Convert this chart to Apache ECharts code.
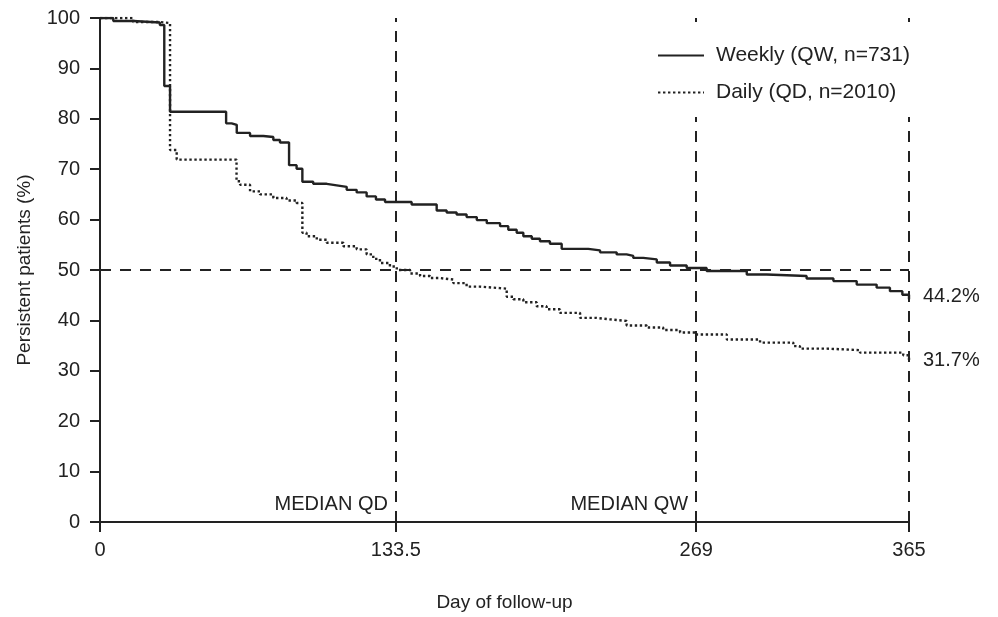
<!DOCTYPE html>
<html>
<head>
<meta charset="utf-8">
<title>Persistence QW vs QD</title>
<script src="https://cdn.jsdelivr.net/npm/echarts@6/dist/echarts.min.js"></script>
<style>
  html, body { margin: 0; padding: 0; background: #fff; }
  #chart { width: 998px; height: 617px; }
</style>
</head>
<body>
<div id="chart"></div>
<script>
// Kaplan-Meier steps: [day, % persistent]
const weekly = [
  [0, 100], [6, 99.4], [15, 99.1], [27, 98.6], [29, 86.5], [31.6, 81.4],
  [56.9, 79.1], [59.4, 78.8], [61.7, 77.2], [67.7, 76.6], [73.7, 76.4],
  [78.2, 75.8], [81.2, 75.3], [85.3, 70.8], [88.7, 70.1], [91.3, 67.5],
  [96.2, 67.1], [102.3, 66.8], [106.8, 66.5], [111.3, 65.9], [115.8, 65.4],
  [120.3, 64.6], [124.5, 64.0], [128.6, 63.5], [140.6, 63.0], [151.9, 61.8],
  [156.4, 61.4], [160.9, 61.0], [165.4, 60.5], [170, 59.9], [174.5, 59.3],
  [180.5, 58.7], [184.2, 58.0], [188, 57.4], [191, 56.7], [194.8, 56.2],
  [198.5, 55.7], [203, 55.2], [208.3, 54.2], [220.3, 53.9], [225.6, 53.5],
  [233.1, 53.1], [237.6, 52.8], [240.6, 52.4], [245.1, 52.1], [251.2, 51.5],
  [257.2, 50.9], [264.7, 50.4], [273.7, 49.8], [291.8, 49.1], [300.8, 48.8],
  [318.8, 48.3], [330.9, 47.8], [341.4, 47.1], [350.4, 46.5], [356.4, 45.8],
  [362, 45.1], [365, 44.2]
];
const daily = [
  [0, 100], [15, 99.2], [27, 99.0], [31.6, 73.8], [34.6, 71.9], [61.6, 67.6],
  [63.2, 66.9], [67.7, 65.6], [72.2, 65.0], [78.2, 64.3], [84.2, 63.8],
  [88.7, 63.3], [91.3, 57.4], [93.2, 56.7], [97.8, 56.0], [102.3, 55.4],
  [109.8, 54.7], [115.8, 54.1], [120.3, 53.1], [123.3, 52.2], [126.3, 51.4],
  [130.8, 50.7], [133.9, 50.0], [139.9, 49.3], [144.4, 48.8], [148.9, 48.4],
  [153.4, 48.1], [159.4, 47.4], [165.4, 46.7], [171.4, 46.4], [180.5, 46.3],
  [183.5, 44.7], [186.5, 44.2], [191, 43.6], [197, 42.8], [201.5, 42.2],
  [207.5, 41.5], [216.6, 40.5], [224.1, 40.2], [230.1, 39.9], [237.6, 39.0],
  [246.7, 38.6], [254.1, 38.1], [261.7, 37.6], [269.2, 37.2], [282.8, 36.2],
  [297.8, 35.6], [312.8, 34.9], [315.8, 34.4], [327.9, 34.1], [342.9, 33.6],
  [362.4, 33.1], [365, 31.7]
];
const seriesNames = ['Weekly (QW, n=731)', 'Daily (QD, n=2010)'];
const xTicks = [0, 133.5, 269, 365];
const refDays = [133.5, 269, 365];
const refPercent = 50;
const medianLabels = [[133.5, 3.5, 'MEDIAN QD'], [269, 3.5, 'MEDIAN QW']];

const ink = '#222';
const font = 'Liberation Sans, Arial, Helvetica, sans-serif';

const chart = echarts.init(document.getElementById('chart'));

const option = {
  animation: false,
  textStyle: { fontFamily: font, color: ink },
  grid: { left: 100, right: 89, top: 18, bottom: 94, containLabel: false },
  legend: {
    data: seriesNames,
    orient: 'vertical',
    left: 650,
    top: 28,
    z: 20,
    padding: [17, 14, 14, 7],
    itemGap: 16,
    itemWidth: 46,
    itemHeight: 14,
    backgroundColor: '#fff',
    selectedMode: false,
    itemStyle: { opacity: 0 },
    textStyle: { fontSize: 21, color: ink, fontFamily: font, padding: [0, 0, 0, 7] }
  },
  xAxis: {
    type: 'value',
    min: 0,
    max: 365,
    name: 'Day of follow-up',
    nameLocation: 'middle',
    nameGap: 71,
    nameTextStyle: { fontSize: 19, color: ink },
    axisLine: { lineStyle: { color: ink, width: 2 } },
    axisTick: { customValues: xTicks, length: 10, lineStyle: { color: ink, width: 2 } },
    axisLabel: { customValues: xTicks, fontSize: 20, color: ink, margin: 18 },
    splitLine: { show: false }
  },
  yAxis: {
    type: 'value',
    min: 0,
    max: 100,
    interval: 10,
    name: 'Persistent patients (%)',
    nameLocation: 'middle',
    nameGap: 66,
    nameTextStyle: { fontSize: 19, color: ink },
    axisLine: { show: true, lineStyle: { color: ink, width: 2 } },
    axisTick: { length: 10, lineStyle: { color: ink, width: 2 } },
    axisLabel: { fontSize: 20, color: ink, margin: 20 },
    splitLine: { show: false }
  },
  series: [
    {
      name: seriesNames[0],
      type: 'line',
      step: 'end',
      data: weekly,
      symbol: 'none',
      lineStyle: { color: ink, width: 2.4 },
      itemStyle: { color: ink },
      endLabel: {
        show: true,
        distance: 14,
        offset: [0, -3],
        fontSize: 20,
        color: ink,
        formatter: (p) => p.value[1].toFixed(1) + '%'
      },
      z: 3
    },
    {
      name: seriesNames[1],
      type: 'line',
      step: 'end',
      data: daily,
      symbol: 'none',
      lineStyle: { color: ink, width: 2.4, type: [2.4, 2.6] },
      itemStyle: { color: ink },
      endLabel: {
        show: true,
        distance: 14,
        offset: [0, -2],
        fontSize: 20,
        color: ink,
        formatter: (p) => p.value[1].toFixed(1) + '%'
      },
      z: 3
    },
    {
      // dashed reference lines: medians, end of follow-up and 50 %
      name: 'ref',
      type: 'line',
      data: [],
      silent: true,
      markLine: {
        silent: true,
        symbol: 'none',
        label: { show: false },
        lineStyle: { color: ink, width: 2, type: [11, 9] },
        data: refDays.map((d) => ({ xAxis: d })).concat([{ yAxis: refPercent }])
      },
      z: 2
    },
    {
      name: 'median labels',
      type: 'scatter',
      data: medianLabels,
      symbolSize: 0,
      silent: true,
      itemStyle: { opacity: 1, color: ink },
      label: {
        show: true,
        position: 'left',
        distance: 8,
        fontSize: 20,
        color: ink,
        opacity: 1,
        formatter: (p) => p.value[2]
      }
    }
  ]
};

chart.setOption(option);
</script>
</body>
</html>
